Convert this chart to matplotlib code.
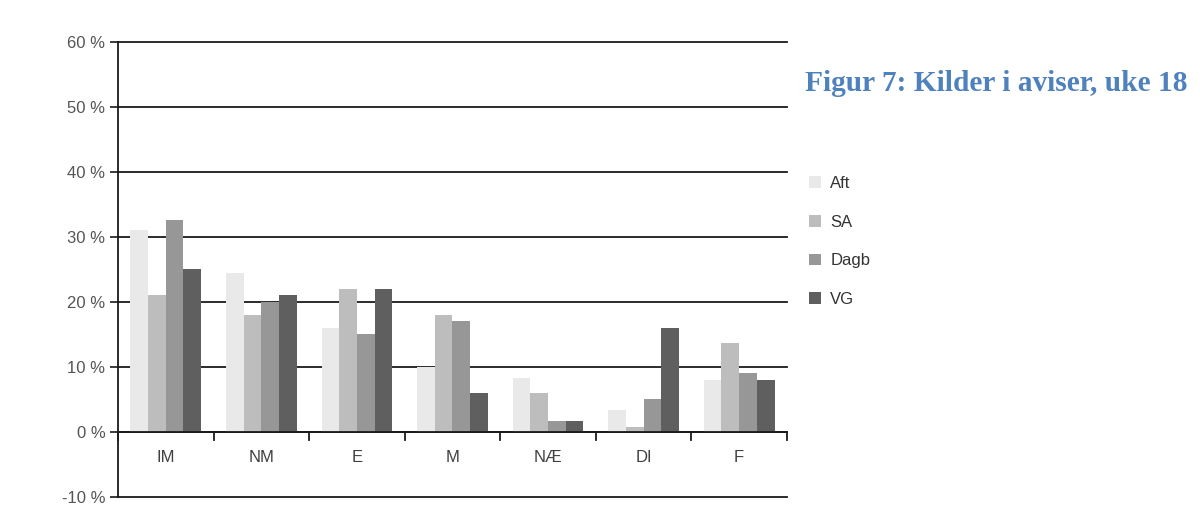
import matplotlib
matplotlib.use("Agg")
import matplotlib.pyplot as plt
import numpy as np
from matplotlib.patches import Patch

categories = ["IM", "NM", "E", "M", "NÆ", "DI", "F"]
series_names = ["Aft", "SA", "Dagb", "VG"]
aft = [31, 24.5, 16, 10, 8.3, 3.4, 8]
sa = [21, 18, 22, 18, 6, 0.8, 13.7]
dagb = [32.6, 20, 15, 17, 1.7, 5, 9]
vg = [25, 21, 22, 6, 1.7, 16, 8]
yticks = [-10, 0, 10, 20, 30, 40, 50, 60]

colors = ["#e9e9e9", "#bdbdbd", "#979797", "#5f5f5f"]
label_font = ["Liberation Sans", "DejaVu Sans"]

fig = plt.figure(figsize=(12, 5.08), dpi=100)
ax = fig.add_axes([0.0983, 0.0217, 0.5575, 0.8956])

x = np.arange(len(categories))
width = 0.185
values = [aft, sa, dagb, vg]
for i, (name, vals) in enumerate(zip(series_names, values)):
    ax.bar(x + (i - 1.5) * width, vals, width, color=colors[i], label=name,
           zorder=3, linewidth=0)

ax.set_xlim(-0.5, len(categories) - 0.5)
ax.set_ylim(-10, 60)

# horizontal gridlines behind the bars
for v in yticks[1:]:
    ax.axhline(v, color="#1a1a1a", linewidth=1.3, zorder=1, clip_on=False)
# zero line drawn on top of the bars with category separators
ax.axhline(0, color="#1a1a1a", linewidth=1.3, zorder=4)
for b in np.arange(-0.5, len(categories), 1.0):
    ax.plot([b, b], [0, -1.2], color="#1a1a1a", linewidth=1.3, zorder=4,
            clip_on=False)

for xi, c in zip(x, categories):
    ax.text(xi, -4, c, ha="center", va="center", fontsize=12,
            color="#404040", family=label_font)

ax.set_xticks([])
ax.set_yticks(yticks)
ax.set_yticklabels([f"{v} %" for v in yticks], fontsize=12, color="#555555",
                   family=label_font)
ax.tick_params(axis="y", direction="out", length=6, width=1.2,
               color="#1a1a1a", pad=3)
for s in ["top", "right"]:
    ax.spines[s].set_visible(False)
for s in ["left", "bottom"]:
    ax.spines[s].set_color("#1a1a1a")
    ax.spines[s].set_linewidth(1.3)

handles = [Patch(facecolor=c, edgecolor="none") for c in colors]
leg = fig.legend(handles, series_names, loc="upper left",
                 bbox_to_anchor=(0.662, 0.683), frameon=False,
                 handlelength=0.7, handleheight=0.7, handletextpad=0.55,
                 labelspacing=1.42, prop={"family": label_font, "size": 12})
for t in leg.get_texts():
    t.set_color("#333333")

fig.text(0.671, 0.836, "Figur 7: Kilder i aviser, uke 18", fontsize=21.2,
         fontweight="bold", color="#4f81bd", family="Liberation Serif",
         ha="left", va="center")

fig.savefig("out.png", dpi=100)
